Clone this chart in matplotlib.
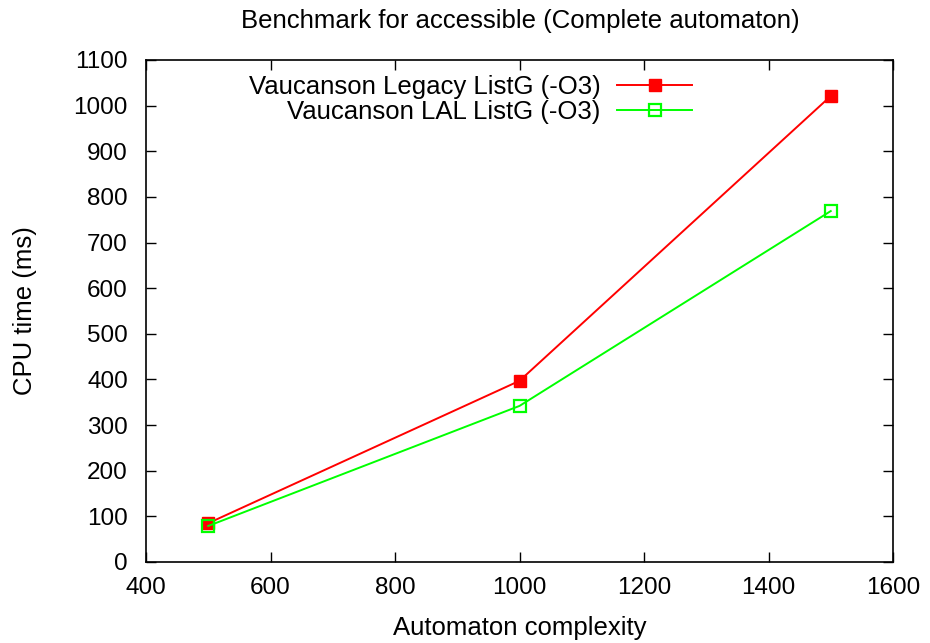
import matplotlib
matplotlib.use("Agg")
import matplotlib.pyplot as plt

plt.rcParams['font.family'] = ['Liberation Sans', 'DejaVu Sans']

# data
complexity = [500, 1000, 1500]
legacy_ms = [85, 397, 1021]
lal_ms = [79, 342, 769]
labels = ["Vaucanson Legacy ListG (-O3)", "Vaucanson LAL ListG (-O3)"]

W, H = 930, 643
fig = plt.figure(figsize=(W / 100, H / 100), dpi=100)
# axes box in pixels: left 146, right 893, top 60, bottom 562
ax = fig.add_axes([146 / W, (H - 562) / H, (893 - 146) / W, (562 - 60) / H])

ax.plot(complexity, legacy_ms, color="#ff0000", lw=1.4, marker="s", ms=8.5,
        mfc="#ff0000", mec="#ff0000", label=labels[0])
ax.plot(complexity, lal_ms, color="#00ff00", lw=1.4, marker="s", ms=8.5,
        mfc="none", mec="#00ff00", mew=1.6, label=labels[1])

ax.set_xlim(400, 1600)
ax.set_ylim(0, 1100)
ax.set_xticks(range(400, 1601, 200))
ax.set_yticks(range(0, 1101, 100))
ax.tick_params(direction="in", top=True, right=True, length=7, width=1,
               labelsize=17.5)
ax.tick_params(axis="y", pad=13)
ax.tick_params(axis="x", pad=11)
for s in ax.spines.values():
    s.set_linewidth(1.2)

ax.set_xlabel("Automaton complexity", fontsize=18.5, va="center")
ax.xaxis.set_label_coords(0.5, (562 - 628) / 502)
ax.set_ylabel("CPU time (ms)", fontsize=18.5, va="center")
ax.yaxis.set_label_coords((25 - 146) / 747, 0.5)
fig.text(520 / W, 1 - 21 / H, "Benchmark for accessible (Complete automaton)",
         fontsize=18.5, ha="center", va="center")

ax.legend(loc="upper right", bbox_to_anchor=((692 - 146) / 747, (562 - 75) / 502),
          frameon=False, markerfirst=False, fontsize=18.5, handlelength=2.9,
          handletextpad=0.65, labelspacing=0.05, borderpad=0, borderaxespad=0)

plt.savefig("out.png", dpi=100)
